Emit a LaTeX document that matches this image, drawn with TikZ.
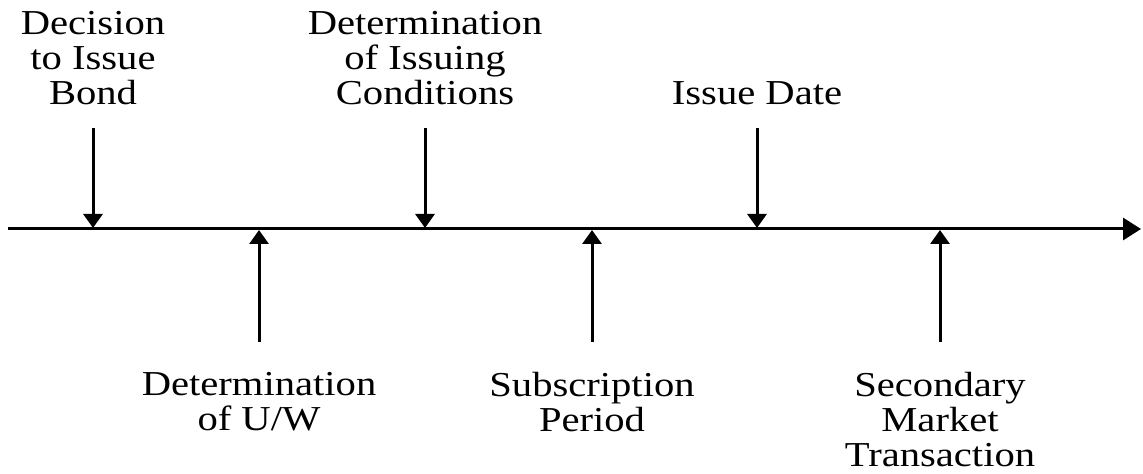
\documentclass[tikz,border=0pt]{standalone}
\usepackage{fontspec}
\setmainfont{Liberation Serif}[FakeStretch=1.16]
\usetikzlibrary{arrows.meta}
\tikzset{
  event/.style={align=center,inner sep=0pt,font=\fontsize{17.5}{17.5}\selectfont},
  tickarrow/.style={line width=1.5pt,-{Triangle[length=7pt,width=9.5pt]}}
}
\begin{document}
\begin{tikzpicture}[x=0.5pt,y=-0.5pt]
  \useasboundingbox (0,0) rectangle (1143,474);
  % time line:
  \coordinate (start) at (8,229);
  \coordinate (end) at (1141,229);
  \draw[line width=1.5pt,-{Triangle[length=9pt,width=11pt]}] (start) -- (end);
  % events above the line:
  \node[event,anchor=south] (decision) at (93,105) {Decision\\to Issue\\Bond};
  \node[event,anchor=south] (conditions) at (425,105) {Determination\\of Issuing\\Conditions};
  \node[event,anchor=south] (issue) at (757,105) {Issue Date};
  \coordinate (decision tail) at (93,128);
  \coordinate (decision tip) at (93,228);
  \coordinate (conditions tail) at (425,128);
  \coordinate (conditions tip) at (425,228);
  \coordinate (issue tail) at (757,128);
  \coordinate (issue tip) at (757,228);
  \draw[tickarrow] (decision tail) -- (decision tip);
  \draw[tickarrow] (conditions tail) -- (conditions tip);
  \draw[tickarrow] (issue tail) -- (issue tip);
  % events below the line:
  \node[event,anchor=north] (underwriter) at (259,372) {Determination\\of U/W};
  \node[event,anchor=north] (subscription) at (592,372) {Subscription\\Period};
  \node[event,anchor=north] (secondary) at (940,372) {Secondary\\Market\\Transaction};
  \coordinate (underwriter tail) at (259,342);
  \coordinate (underwriter tip) at (259,230);
  \coordinate (subscription tail) at (592,342);
  \coordinate (subscription tip) at (592,230);
  \coordinate (secondary tail) at (940,342);
  \coordinate (secondary tip) at (940,230);
  \draw[tickarrow] (underwriter tail) -- (underwriter tip);
  \draw[tickarrow] (subscription tail) -- (subscription tip);
  \draw[tickarrow] (secondary tail) -- (secondary tip);
\end{tikzpicture}
\end{document}
